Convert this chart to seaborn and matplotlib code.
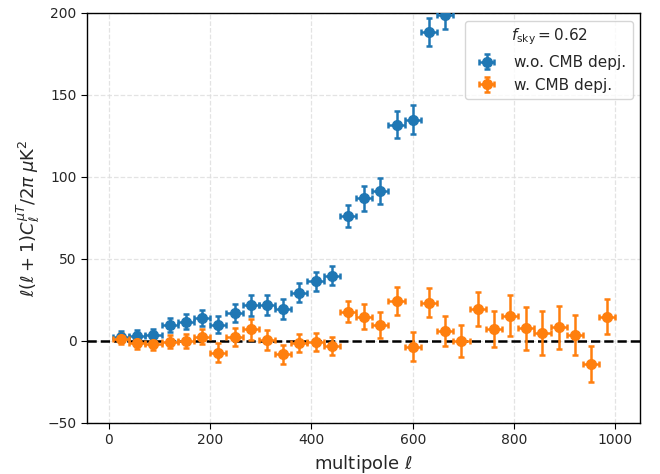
import numpy as np
import matplotlib
matplotlib.use("Agg")
import matplotlib.pyplot as plt
import seaborn as sns

# bin centres (multipole) and half-widths
ell_blue = [24, 56, 88, 120, 152, 184, 216, 248, 280, 312, 344, 376, 408, 440,
            472, 504, 536, 568, 600, 632, 664]
cl_blue = [2.6, 3.0, 3.7, 9.8, 11.8, 14.2, 9.8, 16.9, 21.7, 22.0, 19.7, 29.5,
           36.4, 39.8, 76.2, 87.0, 91.5, 132.0, 135.0, 188.6, 198.8]
err_blue = [3.5, 3.5, 3.8, 4.2, 4.5, 5.0, 5.2, 5.5, 6.2, 6.2, 6.0, 5.8,
            5.8, 5.8, 6.8, 7.5, 8.0, 8.1, 8.6, 8.6, 8.6]

ell_orange = [24, 56, 88, 120, 152, 184, 216, 248, 280, 312, 344, 376, 408, 440,
              472, 504, 536, 568, 600, 632, 664, 696, 728, 760, 792, 824, 856,
              888, 920, 952, 984]
cl_orange = [1.4, -1.4, -1.8, -0.4, 0.2, 2.6, -7.1, 2.6, 7.1, 0.6, -8.1, -1.4,
             -0.4, -2.9, 17.9, 14.8, 9.8, 24.4, -3.5, 23.4, 6.1, 0.2, 19.5,
             7.3, 15.4, 7.7, 4.7, 8.3, 3.7, -14.0, 14.8]
err_orange = [3.5, 3.5, 3.8, 4.0, 4.2, 4.5, 5.9, 5.5, 6.3, 6.0, 5.8, 5.6,
              5.5, 5.5, 6.6, 7.5, 8.1, 8.3, 8.8, 8.8, 8.9, 9.7, 10.3, 11.2,
              12.4, 13.0, 13.5, 13.2, 12.1, 11.0, 10.7]
half_width = 16

sns.set_style("ticks")
pal = sns.color_palette("tab10")

fig = plt.figure(figsize=(6.6, 4.74), dpi=100)
ax = fig.add_axes([0.132, 0.1076, 0.838, 0.865])

ax.grid(True, linestyle="--", color="#dddddd", linewidth=0.9, alpha=0.8)
ax.set_axisbelow(True)

ax.errorbar(ell_blue, cl_blue, yerr=err_blue, xerr=half_width, fmt="o",
            color=pal[0], markersize=7, capsize=2.5, elinewidth=1.8,
            capthick=1.8, label="w.o. CMB depj.", zorder=3)
ax.errorbar(ell_orange, cl_orange, yerr=err_orange, xerr=half_width, fmt="o",
            color=pal[1], markersize=7, capsize=2.5, elinewidth=1.8,
            capthick=1.8, label="w. CMB depj.", zorder=3)
ax.axhline(0, color="black", linestyle="--", linewidth=1.8, zorder=2)

ax.set_xlim(-43, 1049)
ax.set_ylim(-50, 200)
ax.set_xticks([0, 200, 400, 600, 800, 1000])
ax.set_yticks([-50, 0, 50, 100, 150, 200])
ax.tick_params(labelsize=10, direction="out", length=4, color="black")
for s in ax.spines.values():
    s.set_color("black")
    s.set_linewidth(1.0)

ax.set_xlabel(r"multipole $\ell$", fontsize=13)
ax.set_ylabel(r"$\ell(\ell+1)C_\ell^{\mu T}/2\pi\;\mu{\rm K}^2$", fontsize=13)

leg = ax.legend(loc="upper right", title=r"$f_{\rm sky}=0.62$", fontsize=11,
                title_fontsize=11, frameon=True)

fig.savefig("out.png", dpi=100)
